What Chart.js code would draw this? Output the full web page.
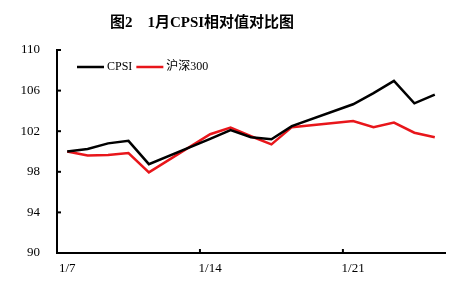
<!DOCTYPE html>
<html>
<head>
<meta charset="utf-8">
<script src="https://cdn.jsdelivr.net/npm/chart.js@4/dist/chart.umd.min.js"></script>
<style>
  html, body { margin: 0; padding: 0; background: #fff; }
  #wrap { width: 465px; height: 292px; }
</style>
</head>
<body>
<div id="wrap"><canvas id="cpsiChart"></canvas></div>
<script>
// trading days only, weekends left empty (null)
const dates = ['1/7','1/8','1/9','1/10','1/11','1/12','1/13','1/14','1/15','1/16','1/17','1/18','1/19','1/20','1/21','1/22','1/23','1/24','1/25'];
const cpsi = [100, 100.25, 100.8, 101.05, 98.75, null, null, 101.25, 102.1, 101.4, 101.2, 102.5, null, null, 104.65, 105.75, 106.95, 104.75, 105.6];
const hs300 = [100, 99.6, 99.65, 99.85, 97.95, null, null, 101.7, 102.35, 101.5, 100.7, 102.4, null, null, 103.0, 102.4, 102.85, 101.85, 101.4];
const yTicks = [90, 94, 98, 102, 106, 110];

const serif = "'Liberation Serif', 'Noto Sans CJK SC', serif";

// title drawn above the plot
const titlePlugin = {
  id: 'titleText',
  afterDraw(chart) {
    const ctx = chart.ctx;
    ctx.save();
    ctx.font = 'bold 15px ' + serif;
    ctx.fillStyle = '#000';
    ctx.textAlign = 'center';
    ctx.textBaseline = 'middle';
    ctx.fillText('图2　1月CPSI相对值对比图', 202, 23);
    ctx.restore();
  }
};

// small legend inside the plot, top left
const legendPlugin = {
  id: 'innerLegend',
  afterDraw(chart) {
    const ctx = chart.ctx;
    const area = chart.chartArea;
    let x = area.left + 20;
    const y = area.top + 17;
    ctx.save();
    ctx.font = '12px ' + serif;
    ctx.textBaseline = 'middle';
    chart.data.datasets.forEach(ds => {
      ctx.strokeStyle = ds.borderColor;
      ctx.lineWidth = ds.borderWidth;
      ctx.beginPath();
      ctx.moveTo(x, y);
      ctx.lineTo(x + 27, y);
      ctx.stroke();
      x += 30;
      ctx.fillStyle = '#000';
      ctx.fillText(ds.label, x, y);
      x += ctx.measureText(ds.label).width + 4;
    });
    ctx.restore();
  }
};

// inward tick marks on both axes
const tickPlugin = {
  id: 'inwardTicks',
  afterDatasetsDraw(chart) {
    const ctx = chart.ctx;
    const area = chart.chartArea;
    const xs = chart.scales.x;
    const ys = chart.scales.y;
    ctx.save();
    ctx.strokeStyle = '#000';
    ctx.lineWidth = 2;
    ys.ticks.forEach((t, i) => {
      const py = ys.getPixelForTick(i);
      ctx.beginPath();
      ctx.moveTo(area.left, py);
      ctx.lineTo(area.left + 4, py);
      ctx.stroke();
    });
    const half = (xs.getPixelForValue(1) - xs.getPixelForValue(0)) / 2;
    [7, 14].forEach(i => {
      const px = xs.getPixelForValue(i) - half;
      ctx.beginPath();
      ctx.moveTo(px, area.bottom);
      ctx.lineTo(px, area.bottom - 4);
      ctx.stroke();
    });
    ctx.restore();
  }
};

new Chart(document.getElementById('cpsiChart'), {
  type: 'line',
  data: {
    labels: dates,
    datasets: [
      {
        label: 'CPSI',
        data: cpsi,
        borderColor: '#000000',
        backgroundColor: '#000000',
        borderWidth: 2.5,
        pointRadius: 0,
        tension: 0,
        spanGaps: true
      },
      {
        label: '沪深300',
        data: hs300,
        borderColor: '#e8161b',
        backgroundColor: '#e8161b',
        borderWidth: 2.5,
        pointRadius: 0,
        tension: 0,
        spanGaps: true
      }
    ]
  },
  options: {
    responsive: true,
    maintainAspectRatio: false,
    animation: false,
    layout: { padding: { top: 50, right: 20, left: 0, bottom: 0 } },
    plugins: {
      legend: { display: false },
      title: { display: false },
      tooltip: { enabled: false }
    },
    scales: {
      x: {
        type: 'category',
        offset: true,
        grid: { display: true, drawOnChartArea: false, drawTicks: false },
        border: { display: true, color: '#000', width: 2 },
        ticks: {
          autoSkip: false,
          maxRotation: 0,
          padding: 8,
          color: '#000',
          font: { family: serif, size: 13 },
          callback: function (value, index) {
            return index % 7 === 0 ? this.getLabelForValue(value) : '';
          }
        },
        afterFit: scale => { scale.height = 39; }
      },
      y: {
        min: 90,
        max: 110,
        afterBuildTicks: scale => { scale.ticks = yTicks.map(v => ({ value: v })); },
        grid: { display: true, drawOnChartArea: false, drawTicks: false },
        border: { display: true, color: '#000', width: 2 },
        ticks: {
          padding: 17,
          color: '#000',
          font: { family: serif, size: 13 }
        },
        afterFit: scale => { scale.width = 57; }
      }
    }
  },
  plugins: [titlePlugin, legendPlugin, tickPlugin]
});
</script>
</body>
</html>
